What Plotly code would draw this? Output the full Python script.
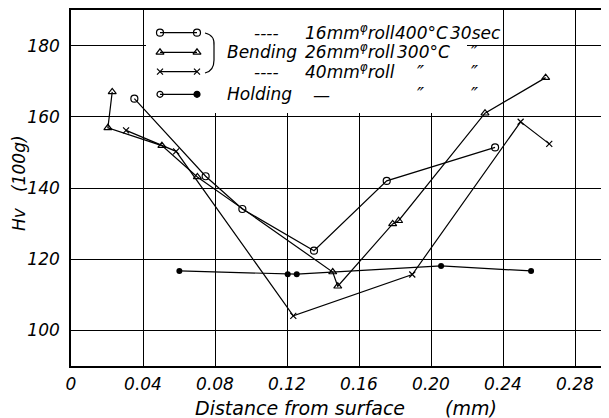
import plotly.graph_objects as go

# ---------------- data ----------------
circle_x = [0.0352, 0.0748, 0.0952, 0.1350, 0.1754, 0.2356]
circle_y = [165.1, 143.3, 134.1, 122.4, 142.0, 151.4]

tri_x = [0.0229, 0.0205, 0.0505, 0.0702, 0.1454, 0.1482, 0.1787, 0.1820, 0.2300, 0.2637]
tri_y = [167.0, 156.9, 151.9, 143.1, 116.4, 112.4, 129.9, 130.8, 161.0, 171.0]

cross_x = [0.0306, 0.0584, 0.1235, 0.1896, 0.2498, 0.2657]
cross_y = [156.2, 150.3, 104.1, 115.7, 158.6, 152.4]

hold_x = [0.0602, 0.1204, 0.1254, 0.2056, 0.2556]
hold_y = [116.7, 115.8, 115.8, 118.1, 116.7]

x_ticks = [0, 0.04, 0.08, 0.12, 0.16, 0.20, 0.24, 0.28]
x_tick_labels = ["0", "0.04", "0.08", "0.12", "0.16", "0.20", "0.24", "0.28"]
y_ticks = [100, 120, 140, 160, 180]
y_tick_labels = ["100", "120", "140", "160", "180"]

# ---------------- layout geometry (page pixels) ----------------
W, H = 609, 418
OFF = 8                      # default page body margin
X0, X1, Y0, Y1 = 71, 609, 10, 366
XR = [0, (X1 - X0) / 72 * 0.04]
YR = [90, 190]


def dx(px):
    return XR[0] + (px - X0) / (X1 - X0) * (XR[1] - XR[0])


def dy(py):
    return YR[0] + (Y1 - py) / (Y1 - Y0) * (YR[1] - YR[0])


def pxp(px):
    return (px - X0) / (X1 - X0)


def pyp(py):
    return (Y1 - py) / (Y1 - Y0)


FONT = "DejaVu Sans"
LW = 1.2
line = dict(color="black", width=LW)

styles = {
    "circle": dict(symbol="circle-open", size=7, color="black", line=dict(width=LW, color="black")),
    "tri": dict(symbol="triangle-up-open", size=7, color="black", line=dict(width=LW, color="black")),
    "cross": dict(symbol="x-thin-open", size=6, color="black", line=dict(width=LW, color="black")),
    "hold": dict(symbol="circle", size=6, color="black", line=dict(width=0)),
}

fig = go.Figure()
fig.add_trace(go.Scatter(x=circle_x, y=circle_y, mode="lines+markers", line=line, marker=styles["circle"], showlegend=False))
fig.add_trace(go.Scatter(x=tri_x, y=tri_y, mode="lines+markers", line=line, marker=styles["tri"], showlegend=False))
fig.add_trace(go.Scatter(x=cross_x, y=cross_y, mode="lines+markers", line=line, marker=styles["cross"], showlegend=False))
fig.add_trace(go.Scatter(x=hold_x, y=hold_y, mode="lines+markers", line=line, marker=styles["hold"], showlegend=False))

# ---------------- hand-drawn style legend ----------------
rows = [32.7, 52.3, 71.7, 94.3]
keys = ["circle", "tri", "cross", "hold"]
for ry, k in zip(rows, keys):
    mk = dict(styles[k])
    if k == "hold":
        mk = dict(symbol=["circle-open", "circle"], size=6, color="black", line=dict(width=LW, color="black"))
    fig.add_trace(go.Scatter(x=[dx(160), dx(197)], y=[dy(ry), dy(ry)], mode="lines+markers",
                             line=line, marker=mk, showlegend=False, hoverinfo="skip"))

shapes = [
    dict(type="rect", xref="x", yref="y", x0=dx(146), x1=dx(467), y0=dy(113), y1=YR[1],
         fillcolor="white", line=dict(width=0), layer="between"),
    dict(type="path", xref="paper", yref="paper",
         path=(f"M {pxp(205)},{pyp(33)} Q {pxp(215)},{pyp(35)} {pxp(214)},{pyp(46)} "
               f"L {pxp(214)},{pyp(60)} Q {pxp(214)},{pyp(71)} {pxp(205)},{pyp(73)}"),
         line=dict(color="black", width=1.2)),
]


def txt(s, px, py, size=17, anchor="left", angle=0):
    return dict(text=s, x=pxp(px), y=pyp(py), xref="paper", yref="paper", xanchor=anchor,
                yanchor="middle", showarrow=False, textangle=angle,
                font=dict(family=FONT, size=size, color="black", style="italic"))


ann = [
    txt("----", 252, rows[0]),
    txt("16mm<sup>φ</sup>roll", 303, rows[0] - 1),
    txt("400°C", 393, rows[0]),
    txt("30sec", 448, rows[0]),
    txt("Bending", 225, rows[1]),
    txt("26mm<sup>φ</sup>roll", 303, rows[1] - 1),
    txt("300°C", 395, rows[1]),
    txt("″", 469, rows[1], size=19),
    txt("----", 252, rows[2]),
    txt("40mm<sup>φ</sup>roll", 303, rows[2] - 1),
    txt("″", 415, rows[2], size=19),
    txt("″", 469, rows[2], size=19),
    txt("Holding", 225, rows[3]),
    txt("—", 311, rows[3] + 1),
    txt("″", 415, rows[3], size=19),
    txt("″", 469, rows[3], size=19),
    txt("Distance from surface", 193, 408, size=19),
    txt("(mm)", 443, 408, size=19),
    txt("Hv   (100g)", 19, 183, size=17, anchor="center", angle=-90),
]

fig.update_layout(
    width=W - OFF, height=H - OFF, autosize=False,
    margin=dict(l=X0 - OFF, r=W - X1, t=Y0 - OFF, b=H - Y1, pad=0),
    paper_bgcolor="white", plot_bgcolor="white",
    shapes=shapes, annotations=ann, showlegend=False,
    xaxis=dict(range=XR, tickvals=x_ticks, ticktext=x_tick_labels, showgrid=True,
               gridcolor="black", gridwidth=1, zeroline=False, showline=True, linecolor="black",
               linewidth=1.6, mirror=True, ticks="", ticklabelstandoff=2,
               tickfont=dict(family=FONT, size=17, color="black", style="italic")),
    yaxis=dict(range=YR, tickvals=y_ticks, ticktext=y_tick_labels, showgrid=True,
               gridcolor="black", gridwidth=1, zeroline=False, showline=True, linecolor="black",
               linewidth=1.6, ticks="", ticklabelstandoff=6,
               tickfont=dict(family=FONT, size=17, color="black", style="italic")),
)

fig.write_html("out.html", config={"displayModeBar": False})
